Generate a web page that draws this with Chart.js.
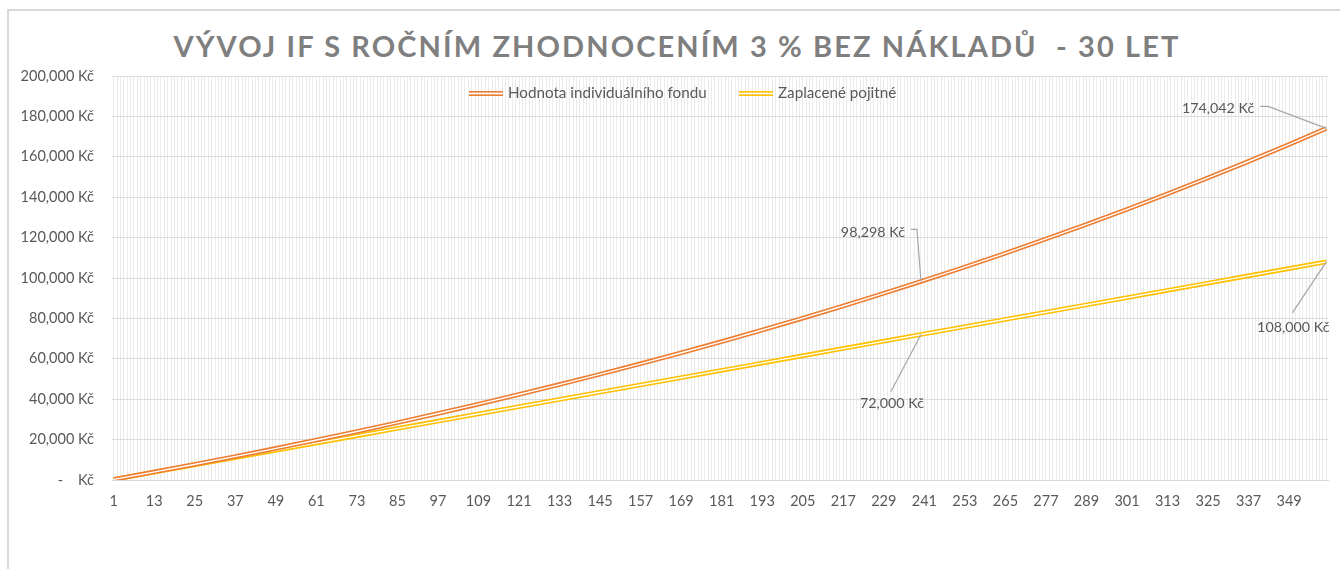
<!DOCTYPE html>
<html lang="cs">
<head>
<meta charset="UTF-8">
<title>Vývoj IF - 30 let</title>
<script src="https://cdn.jsdelivr.net/npm/chart.js@4.4.1/dist/chart.umd.min.js"></script>
<style>
  html, body { margin: 0; padding: 0; background: #fff; }
  #wrap { position: relative; width: 1340px; height: 569px; overflow: hidden; }
  #frame {
    position: absolute; left: 7px; top: 9px; width: 1400px; height: 600px;
    border-left: 2px solid #d9d9d9; border-top: 2px solid #d9d9d9;
  }
  #title {
    position: absolute; left: 0; top: 26px; width: 1354px;
    text-align: center; white-space: pre;
    font: bold 29px Lato, sans-serif; letter-spacing: 2.1px;
    line-height: 40px; color: #7f7f7f;
  }
  canvas { position: absolute; left: 0; top: 0; }
</style>
</head>
<body>
<div id="wrap">
  <div id="frame"></div>
  <div id="title">VÝVOJ IF S ROČNÍM ZHODNOCENÍM 3 % BEZ NÁKLADŮ  - 30 LET</div>
  <canvas id="ifChart" width="1340" height="569"></canvas>
</div>
<script>
// Měsíce, ve kterých čteme hodnoty z grafu (1. měsíc a pak konec každého roku)
const months = [1, 12, 24, 36, 48, 60, 72, 84, 96, 108, 120, 132, 144, 156, 168, 180,
  192, 204, 216, 228, 240, 252, 264, 276, 288, 300, 312, 324, 336, 348, 360];

// Hodnota individuálního fondu (Kč)
const fundValues = [301, 3658, 7426, 11307, 15305, 19422, 23663, 28031, 32530, 37164,
  41938, 46854, 51918, 57134, 62506, 68039, 73739, 79610, 85656, 91884, 98298,
  104906, 111711, 118721, 125940, 133377, 141036, 148926, 157052, 165422, 174042];

// Zaplacené pojistné (Kč)
const paidValues = [300, 3600, 7200, 10800, 14400, 18000, 21600, 25200, 28800, 32400,
  36000, 39600, 43200, 46800, 50400, 54000, 57600, 61200, 64800, 68400, 72000,
  75600, 79200, 82800, 86400, 90000, 93600, 97200, 100800, 104400, 108000];

const seriesNames = ["Hodnota individuálního fondu", "Zaplacené pojitné"];

// Popisky osy X (každý 12. měsíc) a osy Y
const xTickLabels = [1, 13, 25, 37, 49, 61, 73, 85, 97, 109, 121, 133, 145, 157, 169,
  181, 193, 205, 217, 229, 241, 253, 265, 277, 289, 301, 313, 325, 337, 349];
const yTicks = [0, 20000, 40000, 60000, 80000, 100000, 120000, 140000, 160000, 180000, 200000];

// Měsíce s popiskem hodnoty
const labeledMonths = [240, 360];

const ORANGE = "#ed7d31";
const YELLOW = "#ffc000";
const TEXT = "#595959";
const FONT = "Lato, sans-serif";

function formatKc(v) {
  if (v === 0) return "-    Kč";
  return v.toLocaleString("en-US") + " Kč";
}

function toPoints(values) {
  return months.map((m, i) => ({ x: m, y: values[i] }));
}

// Dvojitá čára (Excel "double"): barevná široká čára + bílý střed
function lineSet(values, color, order) {
  return {
    data: toPoints(values),
    borderColor: color,
    borderWidth: 4.6,
    pointRadius: 0,
    tension: 0,
    order: order,
  };
}

// Legenda uvnitř plochy grafu
const legendPlugin = {
  id: "innerLegend",
  afterDraw(chart) {
    const ctx = chart.ctx;
    const items = [
      { x: 469, color: ORANGE, text: seriesNames[0] },
      { x: 739, color: YELLOW, text: seriesNames[1] },
    ];
    const y = 93.5;
    ctx.save();
    items.forEach((it) => {
      ctx.fillStyle = it.color;
      ctx.fillRect(it.x, y - 2.5, 34, 1.6);
      ctx.fillRect(it.x, y + 0.9, 34, 1.6);
      ctx.fillStyle = TEXT;
      ctx.font = "15.2px " + FONT;
      ctx.textAlign = "left";
      ctx.textBaseline = "middle";
      ctx.fillText(it.text, it.x + 39, y);
    });
    ctx.restore();
  },
};

// Popisky hodnot s vodicí čárou
const calloutPlugin = {
  id: "callouts",
  afterDatasetsDraw(chart) {
    const ctx = chart.ctx;
    const xs = chart.scales.x;
    const ys = chart.scales.y;
    const specs = [
      { values: fundValues, month: labeledMonths[1], tx: -72, ty: -20, align: "right", path: [[-66, -22], [-58, -22]] },
      { values: fundValues, month: labeledMonths[0], tx: -16, ty: -49, align: "right", path: [[-10, -52], [-4, -52]] },
      { values: paidValues, month: labeledMonths[0], tx: -29, ty: 69, align: "center", path: [[-30, 57]] },
      { values: paidValues, month: labeledMonths[1], tx: -33, ty: 66, align: "center", path: [[-34, 51]] },
    ];
    ctx.save();
    specs.forEach((s) => {
      const idx = months.indexOf(s.month);
      const v = s.values[idx];
      const px = xs.getPixelForValue(s.month);
      const py = ys.getPixelForValue(v);

      ctx.strokeStyle = "#a6a6a6";
      ctx.lineWidth = 1.2;
      ctx.beginPath();
      ctx.moveTo(px + s.path[0][0], py + s.path[0][1]);
      s.path.slice(1).forEach((p) => ctx.lineTo(px + p[0], py + p[1]));
      ctx.lineTo(px, py);
      ctx.stroke();

      ctx.fillStyle = TEXT;
      ctx.font = "14.3px " + FONT;
      ctx.textAlign = s.align;
      ctx.textBaseline = "middle";
      ctx.fillText(formatKc(v), px + s.tx, py + s.ty);
    });
    ctx.restore();
  },
};

document.addEventListener("DOMContentLoaded", () => {
  Chart.defaults.font.family = FONT;
  Chart.defaults.color = TEXT;

  const ctx = document.getElementById("ifChart");

  new Chart(ctx, {
    type: "line",
    data: {
      datasets: [
        lineSet(fundValues, ORANGE, 2),
        Object.assign(lineSet(fundValues, "#ffffff", 1), { borderWidth: 1.4 }),
        lineSet(paidValues, YELLOW, 4),
        Object.assign(lineSet(paidValues, "#ffffff", 3), { borderWidth: 1.4 }),
      ],
    },
    options: {
      responsive: false,
      animation: false,
      layout: { padding: { top: 76, right: 12, left: 0, bottom: 0 } },
      plugins: {
        legend: { display: false },
        tooltip: { enabled: false },
      },
      scales: {
        x: {
          type: "linear",
          min: 0.5,
          max: 360.5,
          afterBuildTicks(scale) {
            const t = [];
            for (let m = 1; m <= 360; m++) t.push({ value: m });
            scale.ticks = t;
          },
          afterFit(scale) {
            scale.height = 89;
          },
          grid: { color: "#ebebeb", lineWidth: 1, drawTicks: false },
          border: { color: "#d9d9d9" },
          ticks: {
            autoSkip: false,
            maxRotation: 0,
            minRotation: 0,
            padding: 13,
            font: { size: 14.5 },
            color: TEXT,
            callback: (v) => (xTickLabels.includes(v) ? String(v) : ""),
          },
        },
        y: {
          min: 0,
          max: 200000,
          afterBuildTicks(scale) {
            scale.ticks = yTicks.map((v) => ({ value: v }));
          },
          afterFit(scale) {
            scale.width = 112;
          },
          grid: { color: "#dcdcdc", lineWidth: 1, drawTicks: false },
          border: { display: false },
          ticks: {
            padding: 18,
            font: { size: 14.5 },
            color: TEXT,
            callback: (v) => formatKc(v),
          },
        },
      },
    },
    plugins: [legendPlugin, calloutPlugin],
  });
});
</script>
</body>
</html>
